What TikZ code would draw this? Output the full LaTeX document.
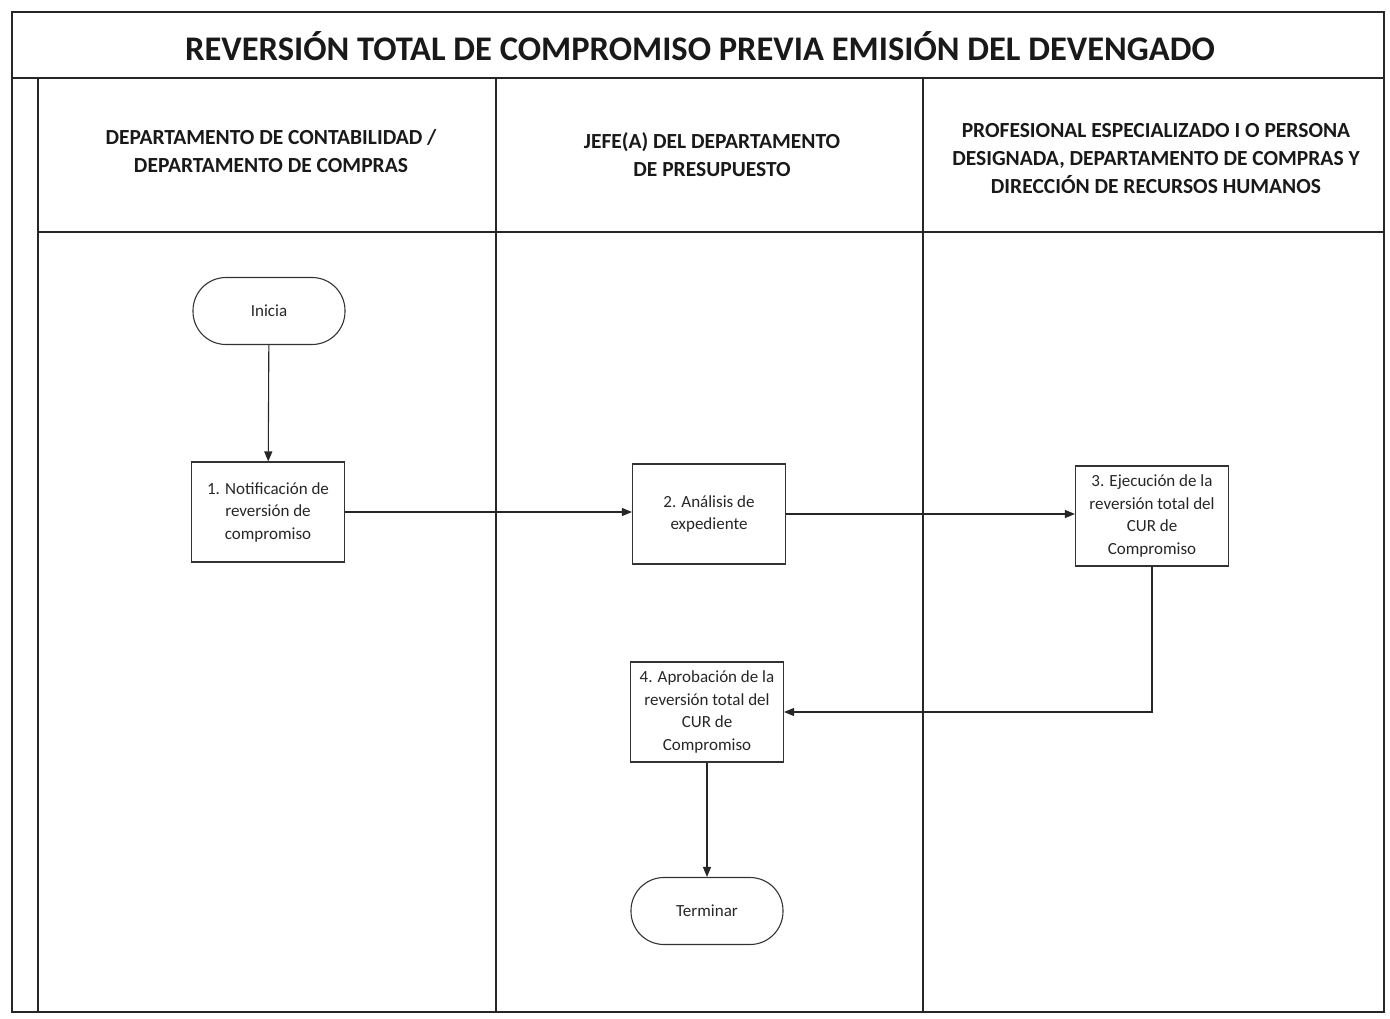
\documentclass[tikz,border=0pt]{standalone}
\usepackage{fontspec}
\setmainfont{Carlito}
\usetikzlibrary{arrows.meta}
\tikzset{
  frame/.style={line width=1.4pt, draw=black!85},
  stepbox/.style={draw=black!80, line width=1.1pt, minimum width=153pt, minimum height=100pt, inner sep=2pt, align=center, font=\fontsize{17}{22.5}\selectfont, text=black!85},
  terminal/.style={draw=black!80, line width=1.1pt, minimum width=152pt, minimum height=67pt, rounded corners=33pt, inner sep=2pt, align=center, font=\fontsize{17}{22}\selectfont, text=black!85},
  laneheader/.style={align=center, font=\fontsize{21.5}{28}\selectfont\bfseries, text=black!90},
  flow/.style={line width=1.1pt, draw=black!85, -{Triangle[length=10pt,width=8pt]}}
}
\begin{document}
\begin{tikzpicture}[x=1pt,y=-1pt]
\useasboundingbox (0,0) rectangle (1390,1018);
% frame and lanes
\draw[frame] (12,12) rectangle (1384,1012);
\draw[frame] (12,78) -- (1384,78);
\draw[frame] (38,78) -- (38,1012);
\draw[frame] (496,78) -- (496,1012);
\draw[frame] (923,78) -- (923,1012);
\draw[frame] (38,232) -- (1384,232);
% title
\node[font=\fontsize{34.5}{40}\selectfont\bfseries, text=black!90] (title) at (700,46) {REVERSIÓN TOTAL DE COMPROMISO PREVIA EMISIÓN DEL DEVENGADO};
% lane headers
\node[laneheader] (h1) at (271,151) {DEPARTAMENTO DE CONTABILIDAD /\\DEPARTAMENTO DE COMPRAS};
\node[laneheader] (h2) at (712,155) {JEFE(A) DEL DEPARTAMENTO\\DE PRESUPUESTO};
\node[laneheader] (h3) at (1156,159) {PROFESIONAL ESPECIALIZADO I O PERSONA\\DESIGNADA, DEPARTAMENTO DE COMPRAS Y\\DIRECCIÓN DE RECURSOS HUMANOS};
% nodes
\node[terminal] (inicia) at (269,311) {Inicia};
\node[stepbox] (s1) at (268,512) {1. Notificación de\\reversión de\\compromiso};
\node[stepbox] (s2) at (709,514) {2. Análisis de\\expediente};
\node[stepbox] (s3) at (1152,516) {3. Ejecución de la\\reversión total del\\CUR de\\Compromiso};
\node[stepbox] (s4) at (707,712) {4. Aprobación de la\\reversión total del\\CUR de\\Compromiso};
\node[terminal] (fin) at (707,911) {Terminar};
% connectors
\draw[flow] (inicia) -- (s1);
\draw[flow] (s1.east) -- (s2.west |- s1.east);
\draw[flow] (s2.east) -- (s3.west |- s2.east);
\draw[flow] (s3.south) |- (s4.east);
\draw[flow] (s4) -- (fin);
\end{tikzpicture}
\end{document}
